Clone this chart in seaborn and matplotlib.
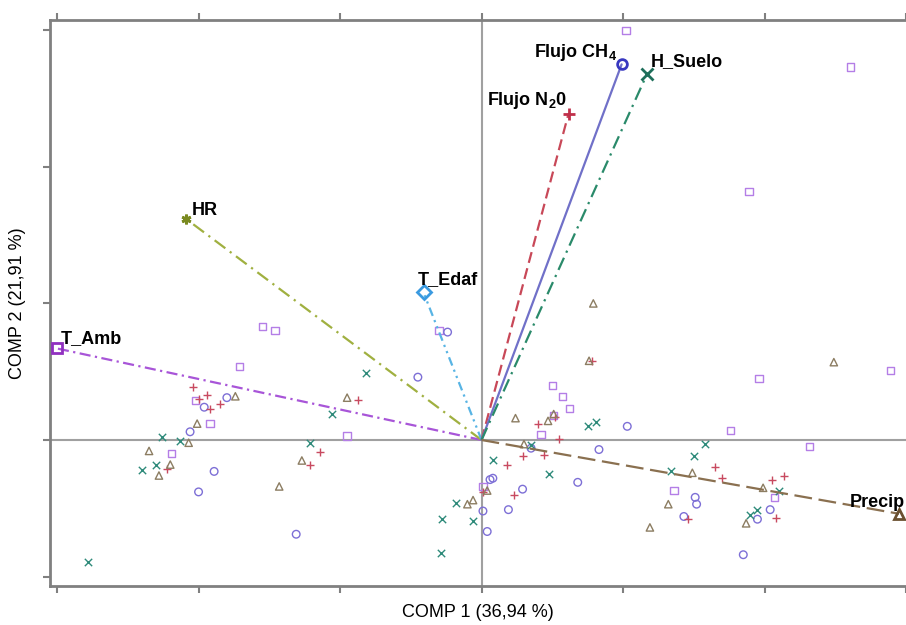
import numpy as np
import pandas as pd
import matplotlib
matplotlib.use("Agg")
import matplotlib.pyplot as plt
import seaborn as sns

sns.set_style("white")
plt.rcParams['font.family'] = ['Liberation Sans', 'DejaVu Sans']
plt.rcParams['text.color'] = 'black'
plt.rcParams['axes.labelcolor'] = 'black'
plt.rcParams['mathtext.fontset'] = 'custom'
plt.rcParams['mathtext.rm'] = 'Liberation Sans'
plt.rcParams['mathtext.bf'] = 'Liberation Sans:bold'
plt.rcParams['mathtext.default'] = 'bf'

# ---- observation scores (COMP 1, COMP 2), one list per group ----
sq_x = [-1.55, -1.46, -1.71, -2.02, -1.92, -2.19, -0.30, -0.95, 0.50, 0.57, 0.62, 0.51,
        0.42, 0.01, 1.96, 2.89, 1.76, 2.32, 1.36, 2.07, 1.02, 2.61, 1.89]
sq_y = [0.83, 0.80, 0.54, 0.29, 0.12, -0.10, 0.80, 0.03, 0.40, 0.32, 0.23, 0.18,
        0.04, -0.34, 0.45, 0.51, 0.07, -0.05, -0.37, -0.42, 3.00, 2.73, 1.82]

ci_x = [-1.80, -1.96, -2.06, -1.89, -2.00, -1.31, -0.24, -0.45, 0.35, 0.83, 0.06, 0.08,
        0.29, 0.19, 0.01, 0.04, 0.68, 1.03, 1.51, 1.52, 1.43, 1.95, 2.04, 1.85]
ci_y = [0.31, 0.24, 0.06, -0.23, -0.38, -0.69, 0.79, 0.46, -0.06, -0.07, -0.29, -0.28,
        -0.36, -0.51, -0.52, -0.67, -0.31, 0.10, -0.42, -0.47, -0.56, -0.58, -0.51, -0.84]

pl_x = [-2.04, -2.00, -1.94, -1.92, -1.85, -2.22, -0.87, -1.14, -1.21, 0.78, 0.40, 0.52,
        0.55, 0.44, 0.29, 0.18, 0.23, 0.01, 1.65, 1.70, 1.46, 2.05, 2.14, 2.08]
pl_y = [0.39, 0.30, 0.33, 0.23, 0.26, -0.21, 0.29, -0.09, -0.18, 0.58, 0.12, 0.17,
        0.01, -0.11, -0.12, -0.18, -0.40, -0.38, -0.20, -0.28, -0.58, -0.29, -0.26, -0.57]

tr_x = [-1.74, -2.01, -2.07, -2.35, -2.20, -2.28, -1.43, -1.27, -0.95, 0.79, 0.76, 0.24,
        0.47, 0.51, 0.30, -0.06, -0.10, 0.04, 2.49, 1.49, 1.32, 1.19, 1.87, 1.99]
tr_y = [0.32, 0.12, -0.02, -0.08, -0.18, -0.26, -0.34, -0.15, 0.31, 1.00, 0.58, 0.16,
        0.14, 0.19, -0.03, -0.44, -0.47, -0.37, 0.57, -0.24, -0.47, -0.64, -0.61, -0.35]

xx_x = [-2.26, -2.13, -2.30, -2.40, -2.78, -0.82, -1.06, -1.21, 0.08, 0.48, -0.18, -0.28,
        -0.06, -0.29, 0.75, 0.81, 0.35, 1.58, 1.50, 1.34, 2.10, 1.95, 1.90]
xx_y = [0.02, -0.01, -0.18, -0.22, -0.89, 0.49, 0.19, -0.02, -0.15, -0.25, -0.46, -0.58,
        -0.59, -0.83, 0.10, 0.13, -0.04, -0.03, -0.12, -0.23, -0.37, -0.51, -0.55]

# ---- variable loadings ----
var_names = ['T_Amb', 'HR', 'T_Edaf', r'Flujo N$_2$0', r'Flujo CH$_4$', 'H_Suelo', 'Precip']
var_x = [-3.00, -2.09, -0.41, 0.615, 0.99, 1.17, 2.95]
var_y = [0.67, 1.62, 1.08, 2.39, 2.75, 2.68, -0.54]

xlabel = 'COMP 1 (36,94 %)'
ylabel = 'COMP 2 (21,91 %)'

groups = [
    (sq_x, sq_y, 's', '#b47ee6', 28),
    (ci_x, ci_y, 'o', '#7d6fd6', 30),
    (pl_x, pl_y, '+', '#c84a60', 32),
    (tr_x, tr_y, '^', '#8c7d62', 28),
    (xx_x, xx_y, 'x', '#2e8a7a', 28),
]

# arrow styles: colour, linestyle, end marker, marker colour, label offset (pt), ha
vec_styles = [
    ('#a855d8', (0, (5, 2, 1, 2)), 's', '#9030c0', (3, 4), 'left'),
    ('#a0b040', (0, (6, 2.5, 1, 2.5)), (6, 2, 0), '#7a8a20', (4, 3), 'left'),
    ('#58b4e4', (0, (4, 2, 1, 2, 1, 2)), 'D', '#3a9ae0', (-4, 6), 'left'),
    ('#c84858', (0, (5, 2.5)), 'P', '#c0304a', (-1, 6), 'right'),
    ('#7070c8', '-', 'o', '#3838c0', (-3, 5), 'right'),
    ('#2a8a6a', (0, (6, 2.5, 1, 2.5)), 'X', '#1e6e5a', (3, 6), 'left'),
    ('#8a7050', (0, (8, 3)), '^', '#6a5030', (4, 5), 'right'),
]

fig = plt.figure(figsize=(9.06, 6.25), dpi=100)
ax = fig.add_axes([50 / 906, 39 / 625, 856 / 906, 566 / 625])

ax.axhline(0, color='#a0a0a0', lw=1.5, zorder=0)
ax.axvline(0, color='#a0a0a0', lw=1.5, zorder=0)

for gx, gy, mk, col, sz in groups:
    df = pd.DataFrame({'x': gx, 'y': gy})
    if mk in ('+', 'x'):
        sns.scatterplot(data=df, x='x', y='y', marker=mk, color=col, s=sz,
                        linewidth=1.0, ax=ax, zorder=2)
    else:
        sns.scatterplot(data=df, x='x', y='y', marker=mk, color=col, s=sz,
                        facecolor='none', edgecolor=col, linewidth=1.0, ax=ax, zorder=2)

for name, vx, vy, st in zip(var_names, var_x, var_y, vec_styles):
    col, ls, mk, mcol, off, ha = st
    ax.plot([0, vx], [0, vy], color=col, linestyle=ls, lw=1.6, zorder=3)
    if mk in ('P', 'X'):
        ax.plot(vx, vy, marker='+' if mk == 'P' else 'x', color=mcol, ms=8, mew=2, zorder=4)
    else:
        ax.plot(vx, vy, marker=mk, color=mcol, ms=7, mew=2, mfc='none', zorder=4)
    ax.annotate(name, (vx, vy), xytext=off, textcoords='offset points',
                ha=ha, va='baseline', fontsize=13, fontweight='bold', zorder=5)

ax.set_xlim(-3.05, 3.0)
ax.set_ylim(-1.069, 3.075)
ax.set_xticks([-3, -2, -1, 0, 1, 2, 3])
ax.set_yticks([-1, 0, 1, 2, 3])
ax.tick_params(axis='both', which='both', direction='out', length=5, width=1.5,
               color='#808080', top=True, bottom=True, left=True, right=False,
               labelbottom=False, labelleft=False, labeltop=False)
for side in ['left', 'top', 'bottom']:
    ax.spines[side].set_color('#808080')
    ax.spines[side].set_linewidth(2)
ax.spines['right'].set_visible(False)

ax.set_xlabel(xlabel, fontsize=13, labelpad=8)
ax.set_ylabel(ylabel, fontsize=13, labelpad=12)

fig.savefig('out.png', dpi=100)
